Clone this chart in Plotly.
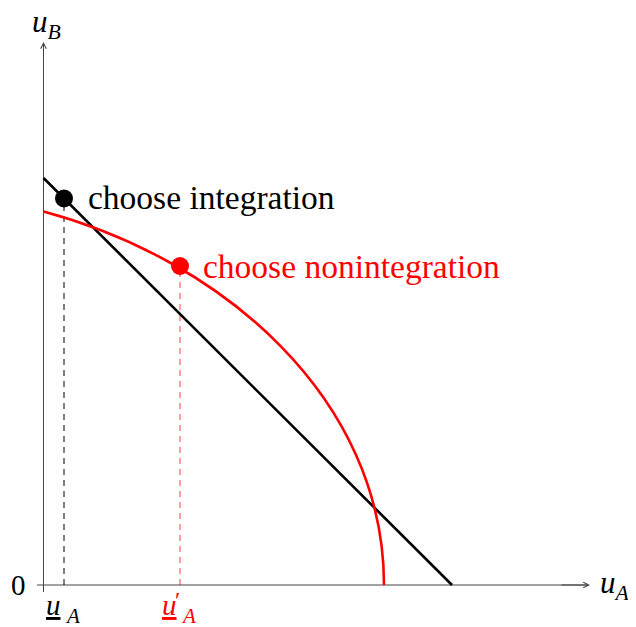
import plotly.graph_objects as go

# ---- data ----
line_x = [0.0, 4.085]          # integration frontier (straight line)
line_y = [4.07, 0.0]

# nonintegration frontier: cubic Bezier (start, control 1, control 2, end)
curve_x = [0.0, 1.797, 3.405, 3.405]
curve_y = [3.735, 3.254, 1.86, 0.0]

point_int = (0.205, 3.866)     # choose integration
point_non = (1.365, 3.19)      # choose nonintegration

label_int = "choose integration"
label_non = "choose nonintegration"

x_axis_end = 5.465
y_axis_end = 5.43

SERIF = "Liberation Serif"
RED = "#ff0000"
AX = "#444"

fig = go.Figure()

# axes (drawn manually, TikZ style)
fig.add_trace(go.Scatter(x=[-0.065, x_axis_end - 0.02], y=[0, 0], mode="lines",
                         line=dict(color=AX, width=1), hoverinfo="skip", showlegend=False))
fig.add_trace(go.Scatter(x=[0, 0], y=[-0.07, y_axis_end - 0.02], mode="lines",
                         line=dict(color=AX, width=1), hoverinfo="skip", showlegend=False))

# dashed drop lines
fig.add_trace(go.Scatter(x=[point_int[0], point_int[0]], y=[0, point_int[1]], mode="lines",
                         line=dict(color="black", width=1, dash="6px,5px"),
                         hoverinfo="skip", showlegend=False))
fig.add_trace(go.Scatter(x=[point_non[0], point_non[0]], y=[0, point_non[1]], mode="lines",
                         line=dict(color="rgba(255,0,0,0.75)", width=1, dash="6px,5px"),
                         hoverinfo="skip", showlegend=False))

# red frontier as a Bezier path in data coordinates
path = "M {},{} C {},{} {},{} {},{}".format(
    curve_x[0], curve_y[0], curve_x[1], curve_y[1],
    curve_x[2], curve_y[2], curve_x[3], curve_y[3])
fig.add_shape(type="path", path=path, xref="x", yref="y",
              line=dict(color=RED, width=2.6), layer="above")

# black frontier
fig.add_trace(go.Scatter(x=line_x, y=line_y, mode="lines",
                         line=dict(color="black", width=2.6),
                         hoverinfo="skip", showlegend=False))

# points
fig.add_trace(go.Scatter(x=[point_int[0]], y=[point_int[1]], mode="markers",
                         marker=dict(color="black", size=18), hoverinfo="skip", showlegend=False))
fig.add_trace(go.Scatter(x=[point_non[0]], y=[point_non[1]], mode="markers",
                         marker=dict(color=RED, size=18), hoverinfo="skip", showlegend=False))

ann = []
# arrow heads
ann.append(dict(x=x_axis_end, y=0, ax=x_axis_end - 0.3, ay=0, xref="x", yref="y",
                axref="x", ayref="y", text="", showarrow=True, arrowhead=5,
                arrowsize=1.1, arrowwidth=1, arrowcolor=AX))
ann.append(dict(x=0, y=y_axis_end, ax=0, ay=y_axis_end - 0.3, xref="x", yref="y",
                axref="x", ayref="y", text="", showarrow=True, arrowhead=5,
                arrowsize=1.1, arrowwidth=1, arrowcolor=AX))

# point labels
ann.append(dict(x=point_int[0] + 0.22, y=point_int[1] + 0.01, text=label_int, showarrow=False,
                xanchor="left", yanchor="middle", font=dict(family=SERIF, size=33.5, color="black")))
ann.append(dict(x=point_non[0] + 0.21, y=point_non[1], text=label_non, showarrow=False,
                xanchor="left", yanchor="middle", font=dict(family=SERIF, size=33.5, color=RED)))

# axis labels
ann.append(dict(x=0.03, y=5.61, text="<i>u</i><sub><i>B</i></sub>", showarrow=False,
                xanchor="center", yanchor="middle", font=dict(family=SERIF, size=31, color="black")))
ann.append(dict(x=5.54, y=0.0, text="<i>u</i><sub><i>A</i></sub>", showarrow=False,
                xanchor="left", yanchor="middle", font=dict(family=SERIF, size=31, color="black")))
ann.append(dict(x=-0.25, y=0.0, text="0", showarrow=False,
                xanchor="center", yanchor="middle", font=dict(family=SERIF, size=29, color="black")))

# tick labels (underlined u)
def tick_label(x0, color, prime):
    ann.append(dict(x=x0 - 0.11, y=-0.2, text="<i>u</i>", showarrow=False,
                    xanchor="center", yanchor="middle",
                    font=dict(family=SERIF, size=29, color=color, lineposition="under")))
    if prime:
        ann.append(dict(x=x0 - 0.03, y=-0.15, text="′", showarrow=False,
                        xanchor="center", yanchor="middle",
                        font=dict(family=SERIF, size=24, color=color)))
    ann.append(dict(x=x0 + 0.085, y=-0.31, text="<i>A</i>", showarrow=False,
                    xanchor="center", yanchor="middle",
                    font=dict(family=SERIF, size=21, color=color)))

tick_label(point_int[0], "black", False)
tick_label(point_non[0], RED, True)

# the page body has an 8px margin: size and ranges compensate for it
fig.update_layout(
    width=628, height=619,
    margin=dict(l=0, r=0, t=0, b=0),
    paper_bgcolor="white", plot_bgcolor="white",
    xaxis=dict(range=[-0.355, 5.925], visible=False, fixedrange=True),
    yaxis=dict(range=[-0.42, 5.77], visible=False, fixedrange=True),
    annotations=ann,
    showlegend=False,
)

fig.write_html("out.html")
